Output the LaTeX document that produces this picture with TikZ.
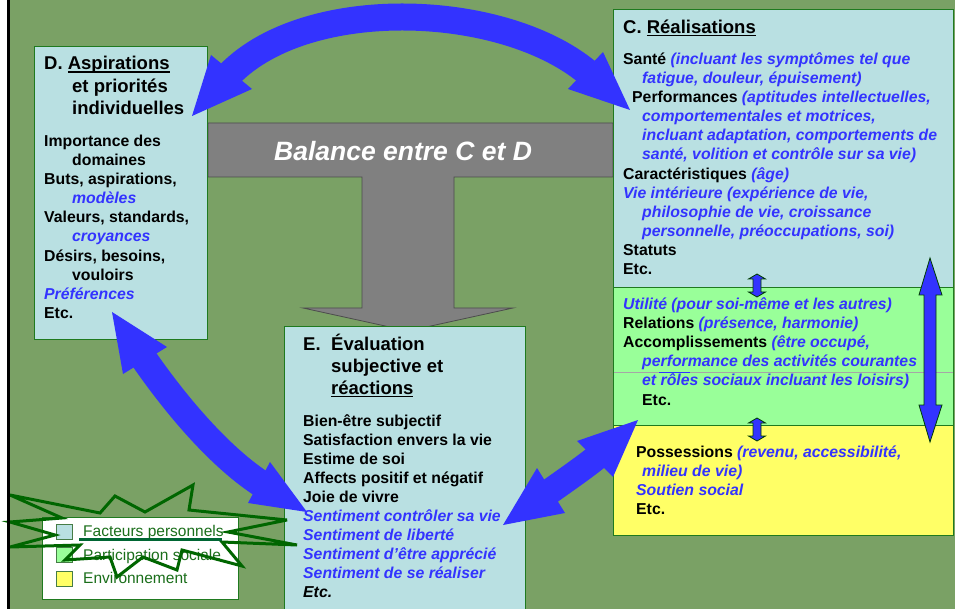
\documentclass[tikz,border=0pt]{standalone}
\usepackage{fontspec}
\setmainfont{Liberation Sans}
\definecolor{bg}{HTML}{7AA165}
\definecolor{lblue}{HTML}{B9E0E2}
\definecolor{lgreen}{HTML}{99FF99}
\definecolor{lyellow}{HTML}{FFFF66}
\definecolor{ablue}{HTML}{3333FF}
\definecolor{bordergreen}{HTML}{1F7A1F}
\definecolor{burst}{HTML}{006600}
\definecolor{legtext}{HTML}{1A6E1A}
\definecolor{tgray}{HTML}{808080}
\definecolor{ulgreen}{HTML}{006633}
\newcommand\bodyf{\fontsize{15.8}{19}\selectfont\bfseries}
\newcommand\titf{\fontsize{18.5}{22}\selectfont\bfseries}
\newcommand\bi[1]{{\color{ablue}\itshape #1}}
\newcommand\ulx[1]{\setbox0\hbox{#1}\rlap{\rule[-2.8pt]{\wd0}{1.7pt}}\box0}
\begin{document}
\begin{tikzpicture}[x=1pt,y=-1pt,
  txt/.style={anchor=base west, inner sep=0pt, font=\bodyf},
  ttl/.style={anchor=base west, inner sep=0pt, font=\titf},
  legt/.style={anchor=base west, inner sep=0pt, font=\fontsize{15.5}{18}\selectfont, text=legtext},
  boxframe/.style={draw=bordergreen, line width=1pt},
  bigarrow/.style={ablue, line width=27pt},
  arrowhead/.style={fill=ablue},
  smallarrow/.style={fill=ablue, draw=black!60!green!60!black, line width=0.8pt}]
\useasboundingbox (0,0) rectangle (955,609);
% background and frame
\fill[white] (0,0) rectangle (7,609);
\fill[bg] (7,0) rectangle (955,609);
% gray T arrow
\draw[fill=tgray, draw=black!70, line width=0.8pt]
  (208,123) -- (613,123) -- (613,177) -- (454,177) -- (454,308) -- (513,308)
  -- (408,331) -- (303,308) -- (362,308) -- (362,177) -- (208,177) -- cycle;
\node[anchor=base west, inner sep=0pt, font=\fontsize{26.5}{30}\selectfont\bfseries\itshape, text=white] (bal) at (274,161) {Balance entre C et D};
% D box
\draw[boxframe, fill=lblue] (34,47) rectangle (207,339);
\coordinate (Dbox) at (120,193);
\node[ttl] (dT1) at (44,70) {D. \ulx{Aspirations}};
\node[ttl] (dT2) at (72,92.5) {et priorités};
\node[ttl] (dT3) at (72,114.5) {individuelles};
\node[txt] (d1) at (44,146.5) {Importance des};
\node[txt] (d2) at (72,165.6) {domaines};
\node[txt] (d3) at (44,184.7) {Buts, aspirations,};
\node[txt] (d4) at (72,203.8) {\bi{modèles}};
\node[txt] (d5) at (44,222.9) {Valeurs, standards,};
\node[txt] (d6) at (72,242) {\bi{croyances}};
\node[txt] (d7) at (44,261.1) {Désirs, besoins,};
\node[txt] (d8) at (72,280.2) {vouloirs};
\node[txt] (d9) at (44,299.3) {\bi{Préférences}};
\node[txt] (d10) at (44,318.4) {Etc.};
% C box
\fill[lblue] (613,10) rectangle (953,288);
\fill[lgreen] (613,288) rectangle (953,425);
\fill[lyellow] (613,425) rectangle (953,535);
\draw[gray!70, line width=0.8pt] (613,372) -- (953,372);
\draw[ablue, line width=1pt] (659,372) -- (690,372);
\draw[boxframe] (613,10) rectangle (953,535);
\draw[boxframe] (613,288) -- (953,288);
\draw[boxframe] (613,425) -- (953,425);
\node[ttl] (cT) at (623,33.5) {C. \ulx{Réalisations}};
\node[txt] (c1) at (623,64.5) {Santé \bi{(incluant les symptômes tel que}};
\node[txt] (c2) at (642,83.6) {\bi{fatigue, douleur, épuisement)}};
\node[txt] (c3) at (632,102.7) {Performances \bi{(aptitudes intellectuelles,}};
\node[txt] (c4) at (642,121.8) {\bi{comportementales et motrices,}};
\node[txt] (c5) at (642,140.9) {\bi{incluant adaptation, comportements de}};
\node[txt] (c6) at (642,160) {\bi{santé, volition et contrôle sur sa vie)}};
\node[txt] (c7) at (623,179.1) {Caractéristiques \bi{(âge)}};
\node[txt] (c8) at (623,198.2) {\bi{Vie intérieure (expérience de vie,}};
\node[txt] (c9) at (642,217.3) {\bi{philosophie de vie, croissance}};
\node[txt] (c10) at (642,236.4) {\bi{personnelle, préoccupations, soi)}};
\node[txt] (c11) at (623,255.5) {Statuts};
\node[txt] (c12) at (623,274.6) {Etc.};
\node[txt] (g1) at (623,309.5) {\bi{Utilité (pour soi-même et les autres)}};
\node[txt] (g2) at (623,328.6) {Relations \bi{(présence, harmonie)}};
\node[txt] (g3) at (623,347.7) {Accomplissements \bi{(être occupé,}};
\node[txt] (g4) at (642,366.8) {\bi{performance des activités courantes}};
\node[txt] (g5) at (642,385.9) {\bi{et rôles sociaux incluant les loisirs)}};
\node[txt] (g6) at (642,405) {Etc.};
\node[txt] (y1) at (636,457.5) {Possessions \bi{(revenu, accessibilité,}};
\node[txt] (y2) at (642,476.6) {\bi{milieu de vie)}};
\node[txt] (y3) at (636,495.7) {\bi{Soutien social}};
\node[txt] (y4) at (636,514.8) {Etc.};
% E box
\draw[boxframe, fill=lblue] (284,327) rectangle (525,615);
\node[ttl] (eT1) at (303,350) {E.};
\node[ttl] (eT2) at (331,350) {Évaluation};
\node[ttl] (eT3) at (331,372.2) {subjective et};
\node[ttl] (eT4) at (331,394.4) {\ulx{réactions}};
\node[txt] (e1) at (303,426) {Bien-être subjectif};
\node[txt] (e2) at (303,445.1) {Satisfaction envers la vie};
\node[txt] (e3) at (303,464.2) {Estime de soi};
\node[txt] (e4) at (303,483.3) {Affects positif et négatif};
\node[txt] (e5) at (303,502.4) {Joie de vivre};
\node[txt] (e6) at (303,521.5) {\bi{Sentiment contrôler sa vie}};
\node[txt] (e7) at (303,540.6) {\bi{Sentiment de liberté}};
\node[txt] (e8) at (303,559.7) {\bi{Sentiment d’être apprécié}};
\node[txt] (e9) at (303,578.8) {\bi{Sentiment de se réaliser}};
\node[txt] (e10) at (303,597.9) {{\itshape Etc.}};
% small double arrows inside C
\draw[smallarrow] (757,274) -- (765.5,279) -- (761,279) -- (761,292) -- (765.5,292) -- (757,297)
  -- (748.5,292) -- (753,292) -- (753,279) -- (748.5,279) -- cycle;
\draw[smallarrow] (757,418) -- (765.5,423) -- (761,423) -- (761,436) -- (765.5,436) -- (757,441)
  -- (748.5,436) -- (753,436) -- (753,423) -- (748.5,423) -- cycle;
% big vertical double arrow
\draw[smallarrow] (930,258) -- (942,295) -- (936,295) -- (936,405) -- (942,405) -- (930,442)
  -- (919,405) -- (924,405) -- (924,295) -- (919,295) -- cycle;
% top arc arrow D <-> C
\coordinate (a1s) at (226,78);
\coordinate (a1e) at (591.5,75.8);
\draw[bigarrow] (a1s) .. controls (301.8,-6.4) and (506.7,0.5) .. (a1e);
\fill[arrowhead] (192,116) -- (211,55) -- (252,89) -- cycle;
\fill[arrowhead] (630,110) -- (603,52) -- (568,89) -- cycle;
% D <-> E arrow
\coordinate (a2s) at (140.5,353.9);
\coordinate (a2e) at (265.8,486.7);
\draw[bigarrow] (a2s) .. controls (171.4,399.3) and (218.9,457.9) .. (a2e);
\fill[arrowhead] (112,312) -- (167,347) -- (123,374) -- cycle;
\fill[arrowhead] (307,512) -- (270,462) -- (248,503) -- cycle;
% E <-> C arrow
\coordinate (a3s) at (544.5,495.2);
\coordinate (a3e) at (600.9,453.6);
\draw[ablue, line width=26pt] (a3s) .. controls (556.7,486.4) and (589.8,463.7) .. (a3e);
\fill[arrowhead] (503,525) -- (537,468) -- (565,513) -- cycle;
\fill[arrowhead] (638,420) -- (577,441) -- (613,477) -- cycle;
% legend
\draw[boxframe, fill=white] (42,517) rectangle (238,599);
\draw[fill=lblue, draw=bordergreen!60!gray, line width=0.8pt] (56,524) rectangle (72,539);
\draw[fill=lgreen, draw=bordergreen!60!gray, line width=0.8pt] (56,547) rectangle (72,562);
\draw[fill=lyellow, draw=bordergreen!60!gray, line width=0.8pt] (56,571) rectangle (72,586);
\node[legt] (l1) at (83,536.5) {Facteurs personnels};
\node[legt] (l2) at (83,560) {Participation sociale};
\node[legt] (l3) at (83,583.5) {Environnement};
% starburst
\draw[burst, line width=3pt, miter limit=6]
  (10,495) -- (100,513) -- (115,496) -- (145,512) -- (193,485) -- (189,510)
  -- (287,520) -- (228,532) -- (297,545) -- (222,542) -- (242,566) -- (182,550)
  -- (177,570) -- (143,557) -- (117,577) -- (110,557) -- (65,560) -- (80,545)
  -- (10,547) -- (55,535) -- (10,522) -- (62,518) -- cycle;
\draw[ulgreen, line width=3pt] (79,539.5) -- (222,539.5);
% left frame line
\fill[black] (7,0) rectangle (10,609);
\end{tikzpicture}
\end{document}
